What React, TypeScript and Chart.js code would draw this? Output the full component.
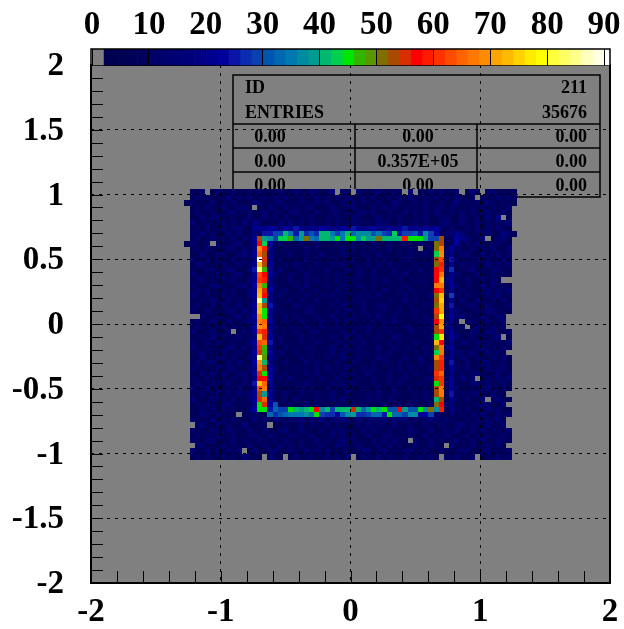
import React, { useEffect, useRef } from "react";
import { Chart, registerables } from "chart.js";

Chart.register(...registerables);

const FONT = "'Liberation Serif', 'Times New Roman', serif";

// colour bar: one colour per 2 units, first is the empty-bin grey, last is overflow
const levelColors = [
  "#808080", "#000050", "#000054", "#000058", "#00005c",
  "#000068", "#00006e", "#000074", "#00007a", "#000084",
  "#000090", "#00009c", "#0a14a8", "#0a2cb0", "#0a40b0",
  "#0055b0", "#0068b0", "#0078b0", "#008ca0", "#009c90",
  "#00b86e", "#00d050", "#00e600", "#32b400", "#5a9600",
  "#806e00", "#aa4a00", "#d82e00", "#ff0000", "#ff1a00",
  "#ff3200", "#ff4b00", "#ff6400", "#ff7800", "#ff8c00",
  "#ffa500", "#ffb900", "#ffd200", "#ffeb00", "#ffff00",
  "#ffff3c", "#ffff64", "#ffff8c", "#ffffbe", "#ffffe6",
  "#ffffff",
];
const colorTicks = [0, 10, 20, 30, 40, 50, 60, 70, 80, 90];
const xTicks = [-2, -1, 0, 1, 2];
const yTicks = [-2, -1.5, -1, -0.5, 0, 0.5, 1, 1.5, 2];
const xMinorTicks = [-1.8, -1.6, -1.4, -1.2, -1, -0.8, -0.6, -0.4, -0.2, 0, 0.2, 0.4, 0.6, 0.8, 1, 1.2, 1.4, 1.6, 1.8];
const yMinorTicks = [-1.9, -1.8, -1.7, -1.6, -1.5, -1.4, -1.3, -1.2, -1.1, -1, -0.9, -0.8, -0.7, -0.6, -0.5, -0.4, -0.3, -0.2, -0.1, 0, 0.1, 0.2, 0.3, 0.4, 0.5, 0.6, 0.7, 0.8, 0.9, 1, 1.1, 1.2, 1.3, 1.4, 1.5, 1.6, 1.7, 1.8, 1.9];

const statHeader = [["ID", "211"], ["ENTRIES", "35676"]];
const statRows = [
  ["0.00", "0.00", "0.00"],
  ["0.00", "0.357E+05", "0.00"],
  ["0.00", "0.00", "0.00"],
];

// histogram: 100 x 100 bins over [-2,2]; filled block starts at bin 19 (x) and bin 75 (y, top row first)
const background = [
  [9,7,11,6,8,13,5,9,12,7, 6,10,8,14,7,9,5,11,8,6, 12,9,7,13,10,6,8,15,7,11, 9,6,12,8,5,10,14,7,9,11, 6,8,13,10,7,5,12,9,16,8, 6,11,7,9,14,8,5,10,12,7, 9,6],
  [6,12,8,10,5,9,7,14,6,11, 8,13,9,5,10,7,12,8,15,6, 9,11,7,5,13,8,10,6,12,9, 14,7,8,11,6,13,5,9,10,8, 12,7,15,6,9,11,8,13,7,10, 5,12,9,6,8,14,11,7,9,13, 6,10],
  [11,5,9,7,13,6,10,8,12,9, 5,7,14,11,6,8,10,13,5,9, 7,12,8,6,11,9,14,7,5,10, 8,13,6,12,9,7,11,5,8,14, 10,6,9,12,7,13,8,5,11,6, 9,16,7,10,8,12,6,14,9,5, 11,8],
  [7,10,6,14,8,5,12,9,7,11, 13,6,8,10,5,12,9,7,14,8, 11,6,10,13,5,7,9,12,8,6, 11,14,7,9,5,10,8,13,6,12, 7,9,11,5,8,14,6,10,12,7, 13,9,5,8,11,6,10,7,14,9, 5,12],
  [8,13,9,5,11,7,6,10,14,8, 5,12,7,9,13,6,11,8,5,10, 14,7,9,6,12,8,5,11,13,7, 9,6,10,14,8,12,5,7,11,9, 6,13,8,10,5,12,7,14,6,9, 11,8,13,5,10,7,9,12,6,8, 14,7],
  [5,9,12,7,10,14,8,6,11,5, 9,13,8,6,12,7,10,5,14,9, 6,11,8,13,7,5,12,9,10,6, 8,14,11,7,5,9,13,6,10,8, 12,7,5,11,9,14,6,8,13,10, 7,5,12,9,6,11,8,14,7,18, 10,6],
  [12,6,8,11,5,9,13,7,10,6, 14,8,17,11,5,9,7,12,6,13, 8,10,5,14,9,7,11,6,12,8, 5,13,10,7,9,6,14,11,8,5, 12,7,9,13,6,10,8,5,11,14, 7,9,12,6,8,13,5,10,7,11, 9,14],
  [7,11,5,13,9,6,12,8,10,14, 7,5,18,21,19,23,20,17,22,18, 24,19,16,21,18,23,20,17,19,22, 18,24,21,16,20,23,18,19,22,17, 21,24,18,20,16,22,19,23,10,6, 12,8,5,11,9,14,7,10,6,13, 8,5],
  [10,8,14,6,11,7,5,13,9,12, 6,8,16,21,18,9,7,12,6,10, 8,5,11,9,7,6,10,8,12,5, 9,7,11,6,10,8,5,9,7,12, 6,10,8,11,5,9,7,6,8,10, 12,19,14,7,5,11,9,13,6,8, 18,10],
  [6,13,9,7,12,5,10,8,14,6, 11,9,20,24,21,18,9,6,11,7, 5,10,8,12,6,9,7,11,5,8, 10,6,12,7,9,5,11,8,6,10, 7,12,9,5,8,11,6,10,7,9, 5,22,18,13,9,6,12,8,5,10, 14,7],
  [13,7,5,10,8,12,6,9,11,14, 5,8,19,23,20,22,6,10,5,9, 7,12,8,5,11,6,9,7,10,8, 5,12,6,9,7,11,8,5,10,6, 9,12,7,5,11,8,6,21,9,5, 7,23,6,12,9,14,8,5,10,13, 7,9],
  [8,11,6,14,7,9,5,12,10,6, 13,7,17,24,21,18,8,5,11,7, 9,6,12,8,10,5,7,9,6,11, 8,12,5,9,7,10,6,8,12,5, 7,9,11,6,8,5,10,24,6,9, 22,11,8,5,13,7,10,6,12,9, 5,14],
  [5,9,12,8,6,11,13,7,5,10, 14,9,21,23,20,16,9,6,8,11, 5,7,10,6,9,12,5,8,7,11, 6,9,5,10,8,7,12,6,9,5, 11,8,10,7,6,12,5,22,8,11, 19,6,10,14,7,5,12,9,8,13, 6,11],
  [11,7,8,13,5,10,6,9,14,7, 12,5,18,25,22,19,6,11,7,5, 9,8,12,6,10,7,5,11,8,6, 9,12,7,5,10,8,6,11,9,5, 7,10,12,6,8,5,9,20,6,7, 24,10,5,12,8,13,6,11,7,9, 14,8],
  [6,14,10,5,9,7,12,8,6,13, 9,11,19,21,23,20,8,5,10,7, 12,6,9,5,11,8,7,10,6,12, 5,9,8,7,11,6,10,5,12,8, 9,7,6,11,5,10,8,23,9,5, 21,7,13,6,10,9,5,14,8,11, 7,12],
  [9,5,7,12,11,6,8,14,10,5, 7,13,24,22,17,18,6,12,9,5, 8,11,7,10,6,9,12,5,8,7, 11,6,10,9,5,12,7,8,6,11, 5,9,10,7,12,6,8,19,5,10, 26,8,6,11,14,5,9,7,13,10, 6,8],
  [12,8,6,10,5,13,9,7,11,14, 6,8,20,25,19,21,10,7,5,11, 9,6,12,8,7,5,10,6,11,9, 8,5,12,7,6,10,9,5,8,11, 7,12,6,9,5,10,8,22,11,6, 18,13,7,5,9,12,8,6,10,7, 11,5],
  [7,10,13,5,8,6,11,9,12,7, 5,14,18,22,24,17,7,9,6,12, 5,8,10,7,11,6,9,5,12,8, 7,10,6,9,5,11,8,12,7,6, 10,5,9,8,11,7,6,21,8,12, 20,6,9,14,5,8,11,7,13,6, 10,9],
  [10,6,9,7,12,14,5,8,6,11, 13,7,22,20,21,19,11,5,8,6, 10,7,12,9,5,8,11,6,7,10, 9,5,12,6,8,11,7,5,10,9, 6,12,8,7,5,11,9,24,6,8, 23,12,5,10,7,6,13,9,14,8, 11,5],
  [5,13,8,11,6,9,10,7,14,5, 8,12,19,23,18,22,6,9,12,5, 7,11,6,8,10,5,9,7,12,6, 11,8,5,10,7,9,6,12,8,5, 11,7,10,6,9,8,5,20,12,7, 19,9,11,6,8,5,10,13,7,12, 6,14],
  [14,8,6,10,7,5,12,9,11,6, 7,13,21,24,20,17,8,12,5,7, 9,6,11,8,5,10,7,12,6,9, 5,8,11,7,10,6,12,5,9,7, 8,10,6,11,5,9,12,23,7,5, 28,10,6,13,9,7,5,11,8,14, 6,9],
  [6,9,11,5,13,8,7,12,5,10, 9,6,17,21,23,19,5,9,7,11, 6,10,8,5,12,7,9,6,11,8, 5,10,7,12,6,8,9,5,11,7, 6,12,8,10,5,7,9,18,10,6, 21,5,12,8,6,14,9,7,11,5, 13,8],
  [9,12,5,8,10,6,14,7,9,13, 5,11,20,22,19,24,10,6,8,5, 12,7,9,11,6,8,5,10,7,12, 9,6,8,11,5,7,10,12,6,9, 8,5,11,7,6,10,8,21,5,9, 24,7,6,10,13,8,5,12,9,6, 7,11],
  [11,6,7,13,9,5,8,10,12,6, 14,8,18,23,21,20,7,11,5,9, 8,6,10,12,7,5,9,6,11,8, 10,7,5,12,6,9,8,11,5,7, 10,6,9,12,8,5,7,22,11,6, 19,13,8,5,7,11,6,14,10,8, 5,9],
  [5,8,13,9,6,11,7,5,10,14, 7,12,23,19,24,18,6,8,12,5, 10,7,9,6,11,8,5,12,7,9, 6,10,8,5,11,7,12,6,9,10, 5,8,7,11,6,12,9,20,7,5, 22,10,14,6,9,5,12,8,7,13, 11,6],
  [8,11,9,6,12,7,5,13,8,6, 10,14,19,22,20,23,9,5,10,7, 6,12,8,5,9,11,7,6,10,5, 12,8,9,6,7,11,5,10,8,12, 6,9,5,7,11,8,10,24,6,9, 20,5,7,12,10,6,9,13,5,8, 14,7],
  [6,14,7,10,5,9,13,6,11,8, 5,9,22,18,21,17,12,7,6,11, 8,5,10,9,7,12,6,8,11,5, 9,7,10,6,12,8,5,11,7,9, 6,10,12,5,8,7,11,23,5,10, 18,6,11,8,5,14,7,9,12,6, 10,13],
  [12,7,5,9,11,8,6,10,14,5, 13,7,20,24,23,19,5,9,8,6, 11,7,5,12,10,6,8,9,5,11, 7,12,6,8,10,5,9,7,11,6, 8,5,12,9,7,10,6,19,8,11, 21,9,5,7,13,10,6,12,14,8, 5,11],
  [7,9,11,6,14,5,10,8,7,12, 6,10,17,22,19,21,8,11,6,5, 9,12,7,10,5,8,6,11,9,7, 12,5,10,8,6,9,11,7,5,12, 10,6,8,7,9,5,11,22,10,6, 23,14,8,6,11,5,9,7,10,12, 8,5],
  [10,5,8,13,7,12,6,9,11,6, 8,14,21,23,18,24,6,10,7,9, 5,11,8,6,12,9,7,5,10,8, 6,11,7,12,5,9,8,6,10,7, 11,5,9,12,6,8,7,20,5,9, 19,6,12,10,8,13,5,11,7,9, 6,14],
  [13,8,6,11,5,9,7,14,10,5, 12,6,19,21,24,18,9,5,12,7, 8,6,10,11,5,9,7,12,6,8, 10,5,11,7,9,6,12,8,5,10, 7,9,11,6,5,12,8,24,7,12, 22,8,5,9,6,11,14,7,10,5, 12,9],
  [5,10,12,7,9,6,13,8,5,11, 7,9,22,18,20,23,7,12,6,8, 10,5,9,11,7,6,8,12,5,10, 7,9,6,11,8,5,10,7,12,6, 9,8,5,11,7,10,6,21,9,5, 17,12,10,7,14,6,8,13,5,11, 9,6],
  [9,6,14,8,5,11,10,7,12,9, 6,13,18,24,21,19,11,6,9,5, 7,12,8,10,6,5,11,9,7,12, 8,6,10,5,9,7,12,11,6,8, 5,10,7,9,12,6,8,23,6,10, 20,5,13,8,7,11,9,5,12,6, 14,7],
  [6,12,7,10,13,5,8,11,6,14, 9,5,23,20,22,17,6,8,10,7, 5,9,12,6,11,8,7,5,10,9, 6,12,8,7,5,11,6,10,9,5, 12,7,8,6,10,5,9,18,11,7, 24,8,6,12,5,9,13,10,7,8, 11,5],
  [11,8,9,5,7,12,6,10,13,7, 5,11,19,22,24,20,12,5,7,9, 11,6,8,5,10,7,12,9,6,8, 11,5,7,10,6,12,9,5,8,7, 11,6,10,5,9,7,12,22,5,8, 21,11,9,14,6,7,5,12,8,10, 13,6],
  [7,5,13,9,11,6,14,8,5,10, 12,7,21,19,18,23,7,9,11,6, 8,5,10,7,12,6,9,8,5,11, 7,10,6,8,12,5,9,7,11,6, 8,10,5,12,7,9,6,20,8,6, 19,7,10,5,11,13,8,6,9,12, 5,10],
  [10,9,6,12,5,8,11,7,10,6, 13,9,17,23,21,22,5,10,8,12, 6,9,7,11,5,10,8,6,12,7, 9,5,11,6,8,10,7,5,12,9, 6,11,8,7,5,10,12,24,9,5, 23,6,14,8,11,7,6,10,5,13, 8,12],
  [5,13,8,6,11,7,9,12,5,8, 10,6,24,18,20,19,9,6,11,5, 10,8,12,6,9,7,5,11,8,10, 6,12,5,9,7,11,8,6,10,5, 12,9,7,6,11,8,5,21,6,11, 20,9,7,5,13,10,8,12,6,7, 14,9],
  [12,7,10,14,6,9,5,11,8,13, 6,7,20,22,23,18,11,7,5,9, 6,12,8,10,7,5,11,6,9,8, 12,5,7,10,6,9,11,5,8,12, 7,6,10,9,5,11,8,19,10,7, 22,12,5,9,8,6,11,14,7,5, 10,8],
  [8,6,11,5,9,13,7,10,6,12, 8,14,18,24,19,21,6,9,12,7, 5,10,8,6,11,9,7,12,5,8, 10,6,9,7,11,5,12,8,6,10, 7,5,9,11,6,12,8,22,5,9, 24,7,11,6,10,13,5,8,12,9, 6,11],
  [14,9,5,8,12,6,11,7,13,5, 9,10,21,19,24,20,8,5,10,6, 12,7,9,5,11,8,6,10,7,12, 5,9,8,6,10,7,11,5,12,9, 6,8,7,10,5,12,6,20,9,5, 18,10,6,13,7,5,12,8,11,14, 6,9],
  [6,11,8,12,7,5,10,14,9,6, 11,5,19,23,17,22,31,9,7,11, 5,8,12,6,10,7,9,5,11,8, 6,12,7,10,5,9,8,11,6,7, 12,5,10,8,9,6,11,23,7,12, 17,5,9,8,6,11,14,10,5,7, 13,8],
  [9,5,12,7,10,6,13,8,11,5, 7,12,22,20,18,19,7,10,5,9, 8,11,6,12,7,5,10,9,6,8, 11,7,5,12,9,6,10,8,5,7, 11,9,6,12,8,5,10,24,8,6, 19,11,7,12,5,9,6,13,8,10, 5,7],
  [5,8,14,10,6,11,7,9,5,12, 8,6,11,9,7,20,22,24,19,21, 23,18,25,20,22,17,19,23,21,24, 18,20,22,25,19,17,21,23,20,18, 24,19,22,17,21,20,23,18,9,5, 12,7,10,6,11,8,14,5,9,13, 7,10],
  [11,7,6,9,13,5,10,8,12,7, 5,9,14,6,11,8,16,13,7,10, 12,15,9,14,11,17,8,13,10,16, 12,9,15,7,13,11,10,14,8,16, 12,15,9,13,7,11,14,10,8,12, 6,9,5,11,7,13,6,10,8,14, 5,9],
  [6,10,13,7,5,12,8,11,6,9, 14,7,5,10,6,12,8,5,11,9, 7,13,6,10,8,5,12,7,11,6, 9,5,10,8,13,7,11,6,9,12, 5,8,10,7,6,11,9,5,12,8, 7,10,14,5,11,9,6,12,7,8, 13,5],
  [13,8,9,5,11,7,6,12,10,5, 8,13,6,9,11,7,5,10,14,6, 8,12,9,5,7,11,6,10,8,13, 5,9,7,12,6,10,8,5,11,7, 9,6,13,10,5,8,12,7,6,11, 9,14,5,8,10,6,13,7,11,9, 5,12],
  [7,12,5,10,8,14,6,9,11,7, 5,10,12,8,6,13,9,7,5,11, 10,6,8,14,7,9,5,12,6,10, 8,11,5,7,13,9,6,10,12,5, 7,8,11,6,9,14,5,10,7,12, 8,6,9,13,5,11,7,10,6,8, 12,9],
  [10,6,8,13,12,5,9,7,14,6, 11,8,5,12,7,9,10,6,13,8, 5,11,7,9,12,6,10,5,8,14, 7,11,9,6,5,12,8,10,7,13, 6,9,5,11,8,7,12,6,10,5, 9,13,8,7,11,5,14,6,9,12, 10,7],
  [8,13,11,7,5,9,12,6,10,8, 7,14,9,5,11,6,8,13,7,10, 5,12,6,9,8,11,5,7,14,10, 6,8,12,5,9,7,11,6,13,8, 10,5,7,12,9,6,11,8,5,10, 14,7,6,9,12,5,8,11,7,10, 6,13],
  [12,9,6,14,7,10,5,11,8,13, 9,6,12,5,7,10,14,8,6,11, 9,5,13,7,10,6,12,8,5,9, 11,7,6,14,10,5,8,12,7,9, 6,11,13,5,8,10,7,6,12,9, 5,8,11,14,6,7,10,12,5,9, 8,11],
  [7,10,5,12,9,6,13,8,11,5, 14,7,9,6,10,12,8,5,11,7, 13,6,9,10,5,8,12,7,11,6, 14,9,5,10,8,7,12,6,11,9, 5,13,7,8,10,6,12,5,9,11, 7,14,8,6,10,12,5,9,7,13, 6,10],
];
// ring around the central opening: top, bottom (bins 32..67) and sides (rows 10..41 of the block)
const ringTopOuter = [8,24,24,28,28,40,35,24,38,27,31,27,41,41,35,28,35,40,33,36,36,36,30,35,28,27,43,24,28,28,30,24,36,28,22,8];
const ringTopInner = [53,38,37,29,43,43,47,33,38,51,35,33,41,41,38,45,35,45,45,36,43,38,38,51,41,41,41,41,59,45,45,45,38,28,28,53];
const ringBottomInner = [45,45,24,33,28,28,45,40,38,41,45,57,36,41,28,41,41,41,55,41,33,38,45,40,45,30,30,57,38,30,30,45,36,50,36,58];
const ringBottomOuter = [8,8,33,26,31,33,35,35,35,36,33,45,28,26,26,22,30,36,38,26,26,28,33,33,24,44,33,33,28,36,36,22,22,28,10,10];
const ringLeftOuter = [57,69,65,91,73,83,63,60,67,71,73,85,73,73,69,67,68,60,73,62,60,55,83,69,66,55,57,73,63,53,55,45];
const ringLeftInner = [42,59,53,55,53,47,57,58,47,55,57,38,53,45,45,65,66,58,55,65,47,47,49,41,53,45,57,65,67,39,65,55];
const ringRightInner = [51,50,42,53,50,57,57,57,67,57,50,53,50,61,53,57,53,53,44,73,50,42,69,53,53,60,55,44,53,53,41,50];
const ringRightOuter = [53,67,69,62,59,61,66,72,67,60,72,75,71,71,79,68,70,60,76,57,67,67,61,58,58,65,60,60,66,67,53,57];
// [x bin, block row] of empty bins
const emptyCells = [
  [22,0],[47,0],[50,0],[60,0],[62,0],[71,0],[75,0],[74,1],[31,3],[79,5],[76,9],[23,10],[63,11],[79,17],[80,17],
  [19,24],[20,24],[80,24],[80,25],[71,25],[72,26],[80,26],[27,27],[79,28],[80,31],[74,36],[80,39],[76,40],[80,41],
  [28,43],[80,44],[80,45],[19,45],[34,45],[61,48],[19,49],[68,49],[80,49],[29,50],[33,51],[37,51],[50,51],[67,51],[74,51],
];
// [x bin, block row, value] of filled bins just outside the block
const strayCells = [[81,0,6],[81,1,8],[81,2,5],[81,8,7],[18,2,6],[18,10,5]];

function buildGrid(): number[][] {
  const grid = background.map((r) => r.slice());
  const put = (bin: number, row: number, v: number) => { grid[row][bin - 19] = v; };
  ringTopOuter.forEach((v, i) => put(32 + i, 8, v));
  ringTopInner.forEach((v, i) => put(32 + i, 9, v));
  ringBottomInner.forEach((v, i) => put(32 + i, 42, v));
  ringBottomOuter.forEach((v, i) => put(32 + i, 43, v));
  ringLeftOuter.forEach((v, i) => put(32, 10 + i, v));
  ringLeftInner.forEach((v, i) => put(33, 10 + i, v));
  ringRightInner.forEach((v, i) => put(66, 10 + i, v));
  ringRightOuter.forEach((v, i) => put(67, 10 + i, v));
  emptyCells.forEach(([b, r]) => put(b, r, 0));
  return grid;
}

const colorOf = (v: number) => levelColors[Math.min(Math.floor(v / 2), levelColors.length - 1)];

const framePlugin = {
  id: "frame",
  beforeDatasetsDraw(chart: any) {
    const { ctx, chartArea: a } = chart;
    // snap each bin's left/top edge to whole pixels, so cells stay crisp
    chart.getDatasetMeta(0).data.forEach((p: any) => {
      p.x = Math.round(p.x - 2.595) + 3;
      p.y = Math.round(p.y - 2.59) + 3;
    });
    ctx.save();
    ctx.fillStyle = "#808080";
    ctx.fillRect(a.left, a.top, a.right - a.left, a.bottom - a.top);
    // statistics box, lies under the histogram
    ctx.strokeStyle = "#000";
    ctx.lineWidth = 1.5;
    ctx.strokeRect(233, 75, 367, 122);
    [124, 148, 172].forEach((y) => { ctx.beginPath(); ctx.moveTo(233, y); ctx.lineTo(600, y); ctx.stroke(); });
    [355, 477].forEach((x) => { ctx.beginPath(); ctx.moveTo(x, 124); ctx.lineTo(x, 197); ctx.stroke(); });
    ctx.fillStyle = "#000";
    ctx.font = `bold 18px ${FONT}`;
    ctx.textBaseline = "alphabetic";
    statHeader.forEach((h, i) => {
      const y = 93 + i * 25;
      ctx.textAlign = "left"; ctx.fillText(h[0], 245, y);
      ctx.textAlign = "right"; ctx.fillText(h[1], 587, y);
    });
    statRows.forEach((r, i) => {
      const y = 142 + i * 24.5;
      ctx.textAlign = "center";
      ctx.fillText(r[0], 270, y);
      ctx.fillText(r[1], 418, y);
      ctx.textAlign = "right";
      ctx.fillText(r[2], 587, y);
    });
    ctx.restore();
  },
  afterDraw(chart: any) {
    const { ctx, chartArea: a, scales } = chart;
    ctx.save();
    ctx.strokeStyle = "#000";
    ctx.lineWidth = 1;
    xMinorTicks.forEach((v) => {
      const x = Math.round(scales.x.getPixelForValue(v)) + 0.5;
      ctx.beginPath(); ctx.moveTo(x, a.bottom); ctx.lineTo(x, a.bottom - 12); ctx.stroke();
    });
    yMinorTicks.forEach((v) => {
      const y = Math.round(scales.y.getPixelForValue(v)) + 0.5;
      ctx.beginPath(); ctx.moveTo(a.left, y); ctx.lineTo(a.left + 12, y); ctx.stroke();
    });
    ctx.lineWidth = 2;
    ctx.strokeRect(a.left, a.top, a.right - a.left, a.bottom - a.top);
    ctx.restore();
  },
};

export default function App() {
  const mainRef = useRef<HTMLCanvasElement>(null);
  const barRef = useRef<HTMLCanvasElement>(null);

  useEffect(() => {
    const grid = buildGrid();
    const pts: { x: number; y: number }[] = [];
    const cols: string[] = [];
    const add = (bin: number, row: number, v: number) => {
      pts.push({ x: -2 + 0.04 * (bin + 0.5), y: -2 + 0.04 * (75 - row + 0.5) });
      cols.push(colorOf(v));
    };
    strayCells.forEach(([b, r, v]) => add(b, r, v));
    grid.forEach((r, row) => r.forEach((v, c) => add(19 + c, row, v)));

    const main = new Chart(mainRef.current!, {
      type: "scatter",
      data: {
        datasets: [{
          data: pts,
          pointStyle: "rect",
          pointRadius: 4.2427,
          pointHoverRadius: 4.2427,
          pointBorderWidth: 0,
          pointBackgroundColor: cols,
        }],
      },
      options: {
        animation: false,
        responsive: false,
        parsing: false,
        layout: { padding: { top: 65, right: 14, left: 0, bottom: 0 } },
        plugins: { legend: { display: false }, tooltip: { enabled: false } },
        scales: {
          x: {
            type: "linear", min: -2, max: 2,
            afterBuildTicks: (s: any) => { s.ticks = xTicks.map((value) => ({ value })); },
            afterFit: (s: any) => { s.height = 46; s.paddingLeft = 0; s.paddingRight = 0; },
            grid: { z: 1, drawTicks: false, color: "#000", lineWidth: 1 } as any,
            border: { display: false, dash: [3, 5] },
            ticks: { color: "#000", font: { family: FONT, size: 33, weight: "bold" }, padding: 10, maxRotation: 0, autoSkip: false, callback: (v: any) => String(v) },
          },
          y: {
            type: "linear", min: -2, max: 2,
            afterBuildTicks: (s: any) => { s.ticks = yTicks.map((value) => ({ value })); },
            afterFit: (s: any) => { s.width = 91; s.paddingTop = 0; s.paddingBottom = 0; },
            grid: { z: 1, drawTicks: false, color: "#000", lineWidth: 1 } as any,
            border: { display: false, dash: [3, 5] },
            ticks: { color: "#000", font: { family: FONT, size: 33, weight: "bold" }, padding: 27, labelOffset: 1.5, autoSkip: false, callback: (v: any) => String(v) },
          },
        },
      },
      plugins: [framePlugin],
    } as any);

    const barDatasets = levelColors.map((c, i) => ({
      data: [[i * 2, i === levelColors.length - 1 ? 92 : (i + 1) * 2]],
      backgroundColor: c,
      borderWidth: 0,
      barPercentage: 1,
      categoryPercentage: 1,
      grouped: false,
    }));
    const bar = new Chart(barRef.current!, {
      type: "bar",
      data: { labels: ["levels"], datasets: barDatasets },
      options: {
        animation: false,
        responsive: false,
        indexAxis: "y",
        layout: { padding: { top: 0, right: 14, left: 91, bottom: 0 } },
        plugins: { legend: { display: false }, tooltip: { enabled: false } },
        scales: {
          y: { display: false, type: "category", offset: true },
          x: {
            type: "linear", position: "top", min: -0.18, max: 91.05,
            afterBuildTicks: (s: any) => { s.ticks = colorTicks.map((value) => ({ value })); },
            afterFit: (s: any) => { s.height = 49; s.paddingLeft = 0; s.paddingRight = 0; },
            grid: { z: 1, drawTicks: false, color: "#000", lineWidth: 1 },
            border: { display: false },
            ticks: { color: "#000", font: { family: FONT, size: 33, weight: "bold" }, padding: 4, maxRotation: 0, autoSkip: false, callback: (v: any) => String(v) },
          },
        },
      },
      plugins: [{
        id: "barFrame",
        afterDraw(chart: any) {
          const { ctx, chartArea: a } = chart;
          ctx.save();
          ctx.strokeStyle = "#000";
          ctx.lineWidth = 1.5;
          ctx.strokeRect(a.left, a.top, a.right - a.left, a.bottom - a.top);
          ctx.restore();
        },
      }],
    } as any);

    return () => { main.destroy(); bar.destroy(); };
  }, []);

  return (
    <div style={{ position: "absolute", left: 0, top: 0, width: 624, height: 629, background: "#fff" }}>
      <canvas ref={mainRef} width={624} height={629} style={{ position: "absolute", left: 0, top: 0 }} />
      <canvas ref={barRef} width={624} height={66} style={{ position: "absolute", left: 0, top: 0 }} />
    </div>
  );
}
